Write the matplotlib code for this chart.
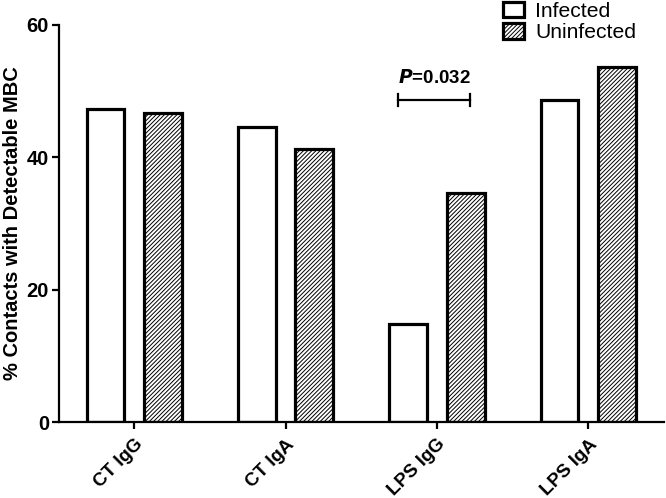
import numpy as np
import matplotlib
matplotlib.use('Agg')
import matplotlib.pyplot as plt
import matplotlib.transforms as mtransforms

plt.rcParams['font.family'] = ['Liberation Sans', 'DejaVu Sans']
plt.rcParams['hatch.linewidth'] = 0.7

# data
groups = ['CT IgG', 'CT IgA', 'LPS IgG', 'LPS IgA']
infected = [47.3, 44.6, 14.8, 48.7]
uninfected = [46.7, 41.2, 34.6, 53.7]
yticks = [0, 20, 40, 60]
p_text = '=0.032'

fig = plt.figure(figsize=(6.66, 4.98), dpi=100)
ax = fig.add_axes([0.088, 0.1526, 0.909, 0.7972])

x = np.arange(len(groups))
w = 0.25
off = 0.19
b1 = ax.bar(x - off, infected, w, color='white', edgecolor='black', linewidth=2.3,
            label='Infected')
b2 = ax.bar(x + off, uninfected, w, color='white', edgecolor='black', linewidth=2.3,
            hatch='////////', label='Uninfected')

ax.set_xlim(-0.5, 3.5)
ax.set_ylim(0, 60)
ax.set_yticks(yticks)
ax.set_yticklabels([str(t) for t in yticks], fontsize=14.5, fontweight='bold')
ax.set_xticks(x)
ax.set_xticklabels(groups, rotation=45, ha='right', rotation_mode='anchor',
                   fontsize=13.5, fontweight='bold')
# nudge the rotated labels a little to the left
shift = mtransforms.ScaledTranslation(-4 / 100, 0, fig.dpi_scale_trans)
for lab in ax.get_xticklabels():
    lab.set_transform(lab.get_transform() + shift)
ax.set_ylabel('% Contacts with Detectable MBC', fontsize=14.5, fontweight='bold',
              labelpad=3)

for s in ['top', 'right']:
    ax.spines[s].set_visible(False)
for s in ['left', 'bottom']:
    ax.spines[s].set_linewidth(1.6)
ax.tick_params(width=1.6, length=5, direction='out', pad=2)
ax.tick_params(axis='x', pad=5)

# significance bracket
x0, x1, yb = 2 - 0.258, 2 + 0.218, 48.7
ax.plot([x0, x1], [yb, yb], color='black', lw=1.6)
ax.plot([x0, x0], [yb - 0.9, yb + 0.9], color='black', lw=1.6)
ax.plot([x1, x1], [yb - 0.9, yb + 0.9], color='black', lw=1.6)
ax.text((x0 + x1) / 2, 50.6, r'$\bfit{P}$' + p_text, ha='center', va='bottom',
        fontsize=13.5, fontweight='bold')

leg = fig.legend(handles=[b1, b2], loc='upper left', bbox_to_anchor=(0.742, 1.013),
                 frameon=False, fontsize=15.2, handlelength=1.0, handleheight=0.75,
                 handletextpad=0.55, labelspacing=0.1, borderaxespad=0)

fig.savefig('out.png', dpi=100)
